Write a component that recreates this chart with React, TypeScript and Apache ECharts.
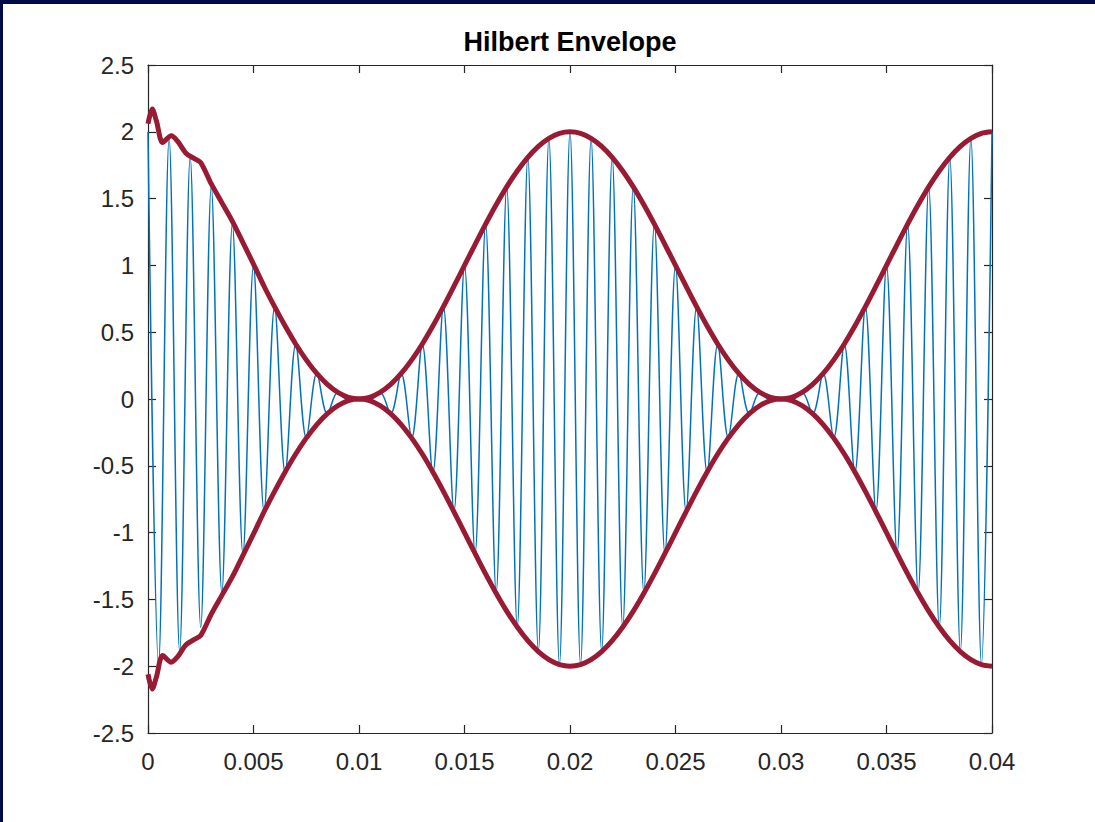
import React, { useEffect, useRef } from "react";
import * as echarts from "echarts";

// Signal peaks (alternating max / min of the carrier every half period)
const carrierStep = 0.0005;
const carrierPeaks = [
  2.0, -1.99, 1.95, -1.89, 1.81, -1.71, 1.59, -1.45, 1.31, -1.16,
  1.0, -0.84, 0.69, -0.55, 0.41, -0.29, 0.19, -0.11, 0.05, -0.01,
  0.0, -0.01, 0.05, -0.11, 0.19, -0.29, 0.41, -0.55, 0.69, -0.84,
  1.0, -1.16, 1.31, -1.45, 1.59, -1.71, 1.81, -1.89, 1.95, -1.99,
  2.0, -1.99, 1.95, -1.89, 1.81, -1.71, 1.59, -1.45, 1.31, -1.16,
  1.0, -0.84, 0.69, -0.55, 0.41, -0.29, 0.19, -0.11, 0.05, -0.01,
  0.0, -0.01, 0.05, -0.11, 0.19, -0.29, 0.41, -0.55, 0.69, -0.84,
  1.0, -1.16, 1.31, -1.45, 1.59, -1.71, 1.81, -1.89, 1.95, -1.99,
  2.0,
];

// Hilbert envelope (upper); lower envelope is its mirror
const envTimes = [
  0, 0.0002, 0.0004, 0.0007, 0.0011, 0.0014, 0.0018, 0.0022, 0.0025,
  0.003, 0.0035, 0.004, 0.0045, 0.005, 0.0055, 0.006, 0.0065, 0.007,
  0.0075, 0.008, 0.0085, 0.009, 0.0095, 0.01, 0.0105, 0.011, 0.0115,
  0.012, 0.0125, 0.013, 0.0135, 0.014, 0.0145, 0.015, 0.0155, 0.016,
  0.0165, 0.017, 0.0175, 0.018, 0.0185, 0.019, 0.0195, 0.02, 0.0205,
  0.021, 0.0215, 0.022, 0.0225, 0.023, 0.0235, 0.024, 0.0245, 0.025,
  0.0255, 0.026, 0.0265, 0.027, 0.0275, 0.028, 0.0285, 0.029, 0.0295,
  0.03, 0.0305, 0.031, 0.0315, 0.032, 0.0325, 0.033, 0.0335, 0.034,
  0.0345, 0.035, 0.0355, 0.036, 0.0365, 0.037, 0.0375, 0.038, 0.0385,
  0.039, 0.0395, 0.04,
];
const envValues = [
  2.06, 2.17, 2.08, 1.92, 1.97, 1.93, 1.84, 1.8, 1.77,
  1.61, 1.47, 1.33, 1.17, 1.01, 0.844, 0.691, 0.546, 0.412,
  0.293, 0.191, 0.109, 0.049, 0.012, 0.0, 0.012, 0.049, 0.109,
  0.191, 0.293, 0.412, 0.546, 0.691, 0.844, 1.0, 1.156, 1.309,
  1.454, 1.588, 1.707, 1.809, 1.891, 1.951, 1.988, 2.0, 1.988,
  1.951, 1.891, 1.809, 1.707, 1.588, 1.454, 1.309, 1.156, 1.0,
  0.844, 0.691, 0.546, 0.412, 0.293, 0.191, 0.109, 0.049, 0.012,
  0.0, 0.012, 0.049, 0.109, 0.191, 0.293, 0.412, 0.546, 0.691,
  0.844, 1.0, 1.156, 1.309, 1.454, 1.588, 1.707, 1.809, 1.891,
  1.951, 1.988, 2.0,
];

const xTickLabels = ["0", "0.005", "0.01", "0.015", "0.02", "0.025", "0.03", "0.035", "0.04"];
const yTickLabels = ["-2.5", "-2", "-1.5", "-1", "-0.5", "0", "0.5", "1", "1.5", "2", "2.5"];

const AXIS_COLOR = "#262626";
const FONT = "'Liberation Sans', Arial, Helvetica, sans-serif";

export default function App() {
  const ref = useRef<HTMLDivElement>(null);

  useEffect(() => {
    if (!ref.current) return;
    const chart = echarts.init(ref.current, undefined, { renderer: "svg" });

    const carrierData = carrierPeaks.map((v, i) => [i * carrierStep, v]);
    const upper = envTimes.map((t, i) => [t, envValues[i]]);
    const lower = envTimes.map((t, i) => [t, -envValues[i]]);

    const xBase = {
      type: "value" as const,
      min: 0,
      max: 0.04,
      interval: 0.005,
      splitLine: { show: false },
      axisLine: { show: true, onZero: false, lineStyle: { color: AXIS_COLOR, width: 1.2 } },
      axisTick: { show: true, inside: true, length: 8, lineStyle: { color: AXIS_COLOR, width: 1.2 } },
    };
    const yBase = {
      type: "value" as const,
      min: -2.5,
      max: 2.5,
      interval: 0.5,
      splitLine: { show: false },
      axisLine: { show: true, onZero: false, lineStyle: { color: AXIS_COLOR, width: 1.2 } },
      axisTick: { show: true, inside: true, length: 8, lineStyle: { color: AXIS_COLOR, width: 1.2 } },
    };

    chart.setOption({
      animation: false,
      backgroundColor: "#ffffff",
      grid: { left: 145, top: 61, width: 844, height: 668, containLabel: false },
      graphic: [
        {
          type: "text",
          x: 567,
          y: 38,
          style: {
            text: "Hilbert Envelope",
            font: `bold 27px ${FONT}`,
            fill: "#000000",
            textAlign: "center",
            textVerticalAlign: "middle",
          },
        },
      ],
      xAxis: [
        {
          ...xBase,
          position: "bottom",
          axisLabel: {
            show: true,
            margin: 16,
            fontSize: 24,
            fontFamily: FONT,
            color: AXIS_COLOR,
            formatter: (v: number) => xTickLabels[Math.round(v / 0.005)] ?? "",
          },
        },
        { ...xBase, position: "top", axisLabel: { show: false } },
      ],
      yAxis: [
        {
          ...yBase,
          position: "left",
          axisLabel: {
            show: true,
            margin: 14,
            fontSize: 24,
            fontFamily: FONT,
            color: AXIS_COLOR,
            formatter: (v: number) => yTickLabels[Math.round((v + 2.5) / 0.5)] ?? "",
          },
        },
        { ...yBase, position: "right", axisLabel: { show: false } },
      ],
      series: [
        {
          type: "line",
          data: carrierData,
          xAxisIndex: 0,
          yAxisIndex: 0,
          showSymbol: false,
          symbol: "none",
          smooth: 0.35,
          lineStyle: { color: "#0072BD", width: 1.5 },
          z: 2,
        },
        {
          type: "line",
          data: upper,
          xAxisIndex: 0,
          yAxisIndex: 0,
          showSymbol: false,
          symbol: "none",
          smooth: 0.3,
          lineStyle: { color: "#991A33", width: 5 },
          z: 3,
        },
        {
          type: "line",
          data: lower,
          xAxisIndex: 0,
          yAxisIndex: 0,
          showSymbol: false,
          symbol: "none",
          smooth: 0.3,
          lineStyle: { color: "#991A33", width: 5 },
          z: 3,
        },
      ],
    });

    return () => chart.dispose();
  }, []);

  return (
    <div
      style={{
        position: "fixed",
        left: 0,
        top: 0,
        width: 1095,
        height: 822,
        background: "#000b47",
      }}
    >
      <div
        ref={ref}
        style={{
          position: "absolute",
          left: 3,
          top: 4,
          width: 1092,
          height: 818,
          background: "#ffffff",
        }}
      />
    </div>
  );
}
